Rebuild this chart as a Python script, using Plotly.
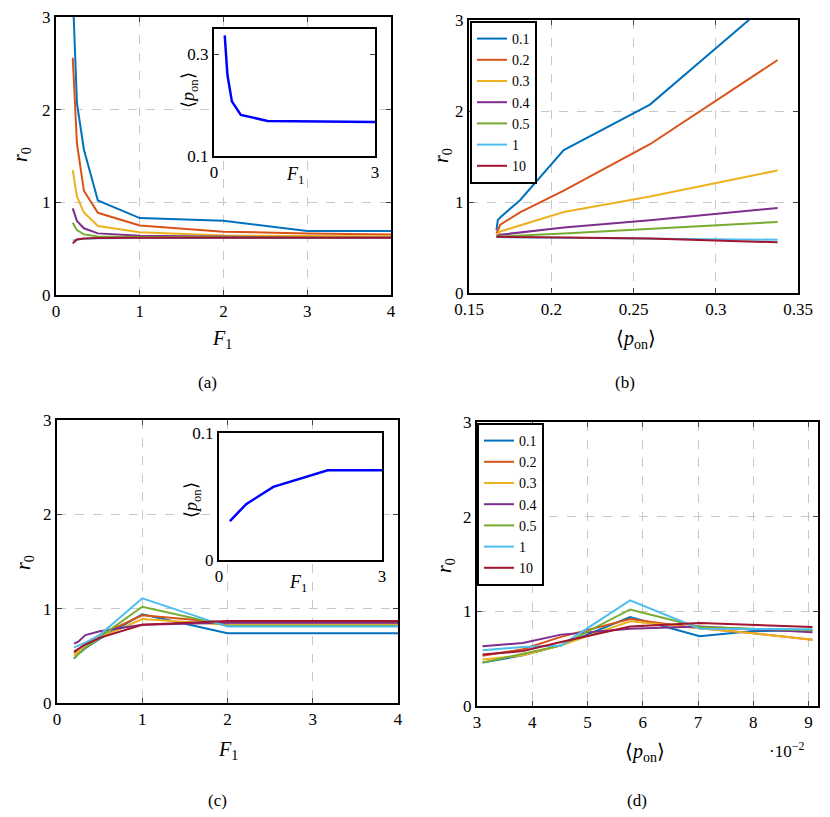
import plotly.graph_objects as go

# The page body keeps its 8px margin, so the figure is 8px smaller
# than the window and the reference pixel positions are shifted by it
PAGE_PAD = 8
W, H = 830 - PAGE_PAD, 817 - PAGE_PAD

# Legend labels and MATLAB default colours
labels = ['0.1', '0.2', '0.3', '0.4', '0.5', '1', '10']
colors = ['#0072BD', '#D95319', '#EDB120', '#7E2F8E', '#77AC30', '#4DBEEE', '#A2142F']

# Panels (a) and (b): r0 against F1 and against <p_on>
f1_ab = [0.2, 0.25, 0.333, 0.5, 1, 2, 3, 4]
pon_ab = [0.3376, 0.2600, 0.2076, 0.1810, 0.1690, 0.1675, 0.1667, 0.1667]
r0_ab = [
    [3.27, 2.07, 1.57, 1.02, 0.83, 0.80, 0.69, 0.69],
    [2.56, 1.635, 1.125, 0.887, 0.75, 0.683, 0.665, 0.654],
    [1.347, 1.06, 0.89, 0.744, 0.676, 0.643, 0.636, 0.63],
    [0.935, 0.80, 0.72, 0.665, 0.64, 0.625, 0.618, 0.618],
    [0.78, 0.70, 0.654, 0.632, 0.625, 0.618, 0.618, 0.618],
    [0.585, 0.60, 0.608, 0.612, 0.615, 0.615, 0.615, 0.615],
    [0.557, 0.60, 0.61, 0.615, 0.618, 0.618, 0.618, 0.618],
]

# Panel (c): r0 against F1
f1_c = [0.2, 0.25, 0.333, 0.5, 1, 2, 3, 4]
r0_c = [
    [0.47, 0.52, 0.58, 0.68, 0.94, 0.74, 0.74, 0.74],
    [0.53, 0.57, 0.63, 0.72, 0.93, 0.85, 0.85, 0.85],
    [0.50, 0.54, 0.59, 0.69, 0.89, 0.83, 0.83, 0.83],
    [0.63, 0.65, 0.72, 0.76, 0.83, 0.85, 0.85, 0.85],
    [0.47, 0.52, 0.59, 0.70, 1.02, 0.82, 0.82, 0.82],
    [0.59, 0.61, 0.64, 0.72, 1.11, 0.81, 0.81, 0.81],
    [0.545, 0.57, 0.62, 0.69, 0.83, 0.87, 0.87, 0.87],
]

# Panel (d): r0 against <p_on>
pon_d = [0.031, 0.0383, 0.0452, 0.0577, 0.0703, 0.0795, 0.0907]
r0_d = [
    [0.458, 0.535, 0.64, 0.94, 0.736, 0.79, 0.80],
    [0.53, 0.60, 0.73, 0.92, 0.82, 0.77, 0.70],
    [0.49, 0.535, 0.64, 0.894, 0.82, 0.77, 0.70],
    [0.63, 0.665, 0.754, 0.817, 0.84, 0.81, 0.78],
    [0.458, 0.55, 0.64, 1.02, 0.834, 0.815, 0.80],
    [0.588, 0.623, 0.64, 1.116, 0.817, 0.815, 0.81],
    [0.543, 0.58, 0.676, 0.84, 0.877, 0.855, 0.834],
]

# Insets: <p_on> against F1
f1_inset_a = [0.2, 0.25, 0.333, 0.5, 1, 2, 3]
pon_inset_a = [0.3376, 0.2600, 0.2076, 0.1810, 0.1690, 0.1675, 0.1667]
f1_inset_c = [0.2, 0.5, 1, 2, 3]
pon_inset_c = [0.0306, 0.0440, 0.0576, 0.0707, 0.0707]


def px(x):
    return (x - PAGE_PAD) / W


def py(y):
    return 1 - (y - PAGE_PAD) / H


FONT = 'Liberation Serif'
R0 = '<i>r</i><sub>0</sub>'
F1 = '<i>F</i><sub>1</sub>'
PON = '\u27e8<i>p</i><sub>on</sub>\u27e9'

fig = go.Figure()

for i in range(7):
    fig.add_trace(go.Scatter(x=f1_ab, y=r0_ab[i], mode='lines', name=labels[i],
                             line=dict(color=colors[i], width=2),
                             xaxis='x', yaxis='y', showlegend=False))
    fig.add_trace(go.Scatter(x=pon_ab, y=r0_ab[i], mode='lines', name=labels[i],
                             line=dict(color=colors[i], width=2),
                             xaxis='x2', yaxis='y2', legend='legend'))
    fig.add_trace(go.Scatter(x=f1_c, y=r0_c[i], mode='lines', name=labels[i],
                             line=dict(color=colors[i], width=2),
                             xaxis='x3', yaxis='y3', showlegend=False))
    fig.add_trace(go.Scatter(x=pon_d, y=r0_d[i], mode='lines', name=labels[i],
                             line=dict(color=colors[i], width=2),
                             xaxis='x4', yaxis='y4', legend='legend2'))

fig.add_trace(go.Scatter(x=f1_inset_a, y=pon_inset_a, mode='lines',
                         line=dict(color='#0000FF', width=2.5),
                         xaxis='x5', yaxis='y5', showlegend=False))
fig.add_trace(go.Scatter(x=f1_inset_c, y=pon_inset_c, mode='lines',
                         line=dict(color='#0000FF', width=2.5),
                         xaxis='x6', yaxis='y6', showlegend=False))


def axis(domain, rng, tickvals, anchor, ticktext=None, grid=True):
    d = dict(domain=domain, range=rng, tickvals=tickvals, anchor=anchor,
             automargin=False, ticklabeloverflow='allow',
             showgrid=grid, gridcolor='#c8c8c8', griddash='dash', gridwidth=1,
             showline=True, linecolor='black', linewidth=2, mirror='allticks',
             ticks='inside', ticklen=5, tickcolor='#444', zeroline=False,
             tickfont=dict(family=FONT, size=17, color='black'))
    if ticktext is not None:
        d['ticktext'] = ticktext
    return d


fig.update_layout(
    template='none',
    width=W, height=H,
    margin=dict(l=0, r=0, t=0, b=0, autoexpand=False),
    paper_bgcolor='white', plot_bgcolor='white',
    font=dict(family=FONT, color='black'),
    xaxis=axis([px(56), px(391)], [0, 4], [0, 1, 2, 3, 4], 'y'),
    yaxis=axis([py(295), py(17)], [0, 3], [0, 1, 2, 3], 'x'),
    xaxis2=axis([px(469), px(798)], [0.15, 0.35], [0.15, 0.2, 0.25, 0.3, 0.35], 'y2',
                ticktext=['0.15', '0.2', '0.25', '0.3', '0.35']),
    yaxis2=axis([py(293), py(20)], [0, 3], [0, 1, 2, 3], 'x2'),
    xaxis3=axis([px(57), px(398)], [0, 4], [0, 1, 2, 3, 4], 'y3'),
    yaxis3=axis([py(703), py(420)], [0, 3], [0, 1, 2, 3], 'x3'),
    xaxis4=axis([px(477), px(818)], [0.03, 0.0917],
                [0.03, 0.04, 0.05, 0.06, 0.07, 0.08, 0.09], 'y4',
                ticktext=['3', '4', '5', '6', '7', '8', '9']),
    yaxis4=axis([py(706), py(422)], [0, 3], [0, 1, 2, 3], 'x4'),
    xaxis5=axis([px(214), px(375)], [0, 3], [0, 3], 'y5', grid=False),
    yaxis5=axis([py(156), py(29)], [0.1, 0.35], [0.1, 0.3], 'x5', grid=False),
    xaxis6=axis([px(219), px(382)], [0, 3], [0, 3], 'y6', grid=False),
    yaxis6=axis([py(560), py(433)], [0, 0.1], [0, 0.1], 'x6', grid=False),
    legend=dict(x=px(470), y=py(21), xanchor='left', yanchor='top',
                bgcolor='white', bordercolor='black', borderwidth=2,
                font=dict(family=FONT, size=14), tracegroupgap=0),
    legend2=dict(x=px(477), y=py(423), xanchor='left', yanchor='top',
                 bgcolor='white', bordercolor='black', borderwidth=2,
                 font=dict(family=FONT, size=14), tracegroupgap=0),
)

# Axis titles, subplot labels and the exponent note as text
texts = [
    (R0, 22, 155, -90, 20), (F1, 222, 340, 0, 20),
    (R0, 443, 155, -90, 20), (PON, 636, 340, 0, 20),
    (R0, 24, 563, -90, 20), (F1, 228, 750, 0, 20),
    (R0, 445, 565, -90, 20), (PON, 645, 752, 0, 20),
    ('\u00b710<sup>\u22122</sup>', 786, 750, 0, 17),
    (PON, 190, 90, -90, 18), (F1, 295, 175, 0, 18),
    (PON, 192, 500, -90, 18), (F1, 298, 583, 0, 18),
    ('(a)', 207, 382, 0, 17), ('(b)', 625, 382, 0, 17),
    ('(c)', 217, 800, 0, 17), ('(d)', 637, 800, 0, 17),
]
for text, x, y, angle, size in texts:
    fig.add_annotation(text=text, x=px(x), y=py(y), xref='paper', yref='paper',
                       showarrow=False, textangle=angle,
                       xanchor='center', yanchor='middle',
                       font=dict(family=FONT, size=size, color='black'))

fig.write_html("out.html")
